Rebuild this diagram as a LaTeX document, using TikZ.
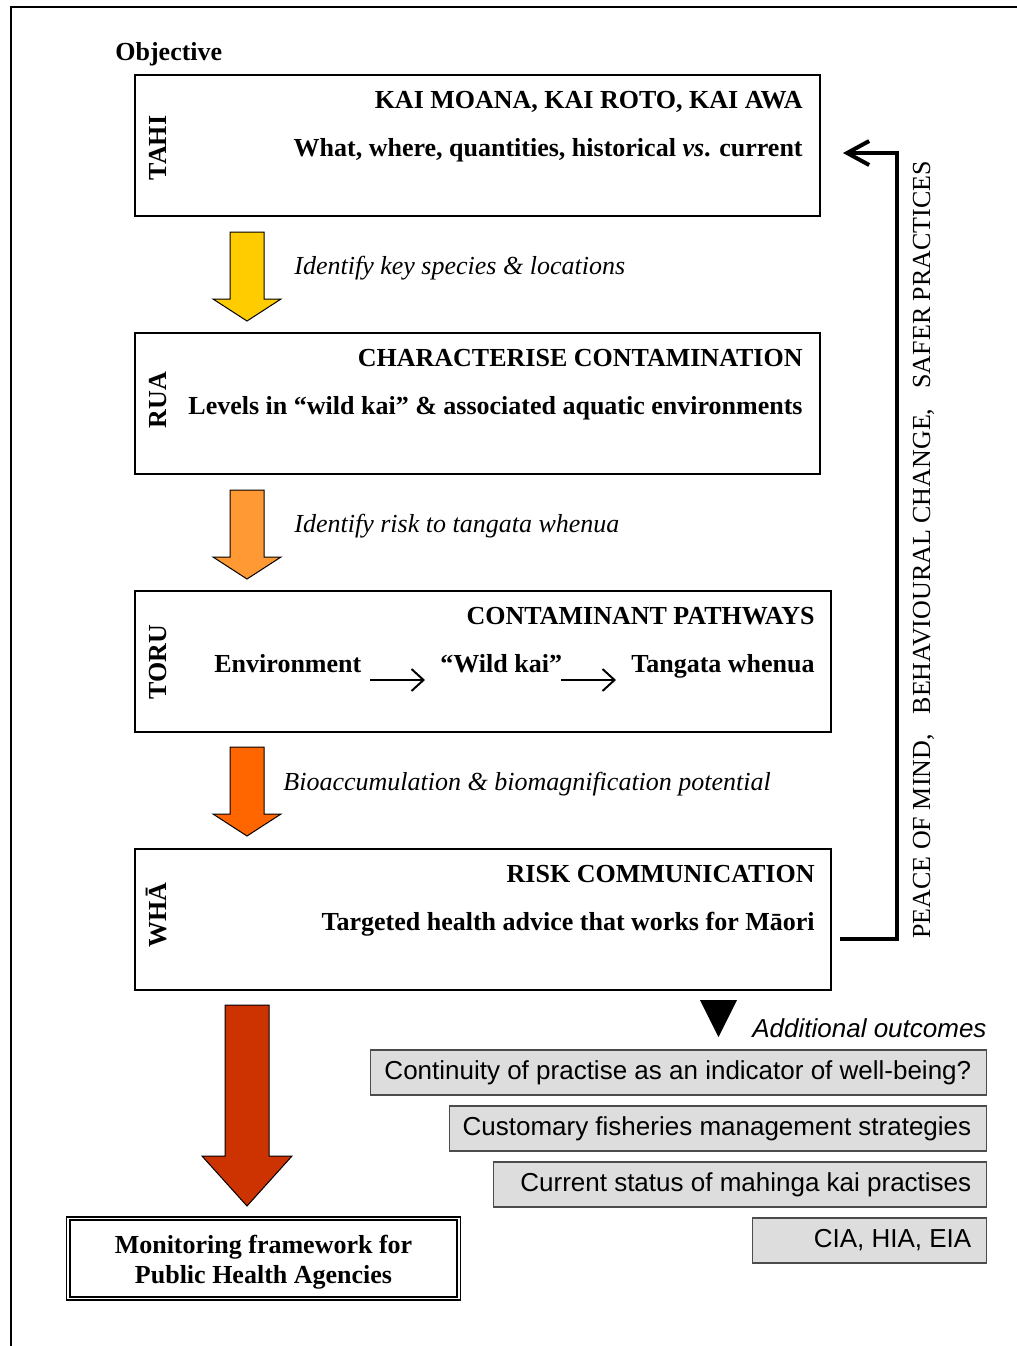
\documentclass[tikz,border=0pt]{standalone}
\usepackage{fontspec}
\setmainfont{Liberation Serif}
\setsansfont{Liberation Sans}
\usetikzlibrary{arrows.meta}
\definecolor{arrYellow}{HTML}{FFCC00}
\definecolor{arrOrange}{HTML}{FF9933}
\definecolor{arrDark}{HTML}{FF6600}
\definecolor{arrRed}{HTML}{CC3300}
\definecolor{boxGray}{HTML}{DDDDDD}
\begin{document}
\begin{tikzpicture}[x=0.5pt,y=-0.5pt,
  stagebox/.style={draw=black, line width=1.25pt, inner sep=0pt, outer sep=0pt, anchor=north west},
  boldtxt/.style={font=\fontsize{13}{15}\selectfont\bfseries, inner sep=0pt},
  stagelab/.style={boldtxt, rotate=90},
  itlabel/.style={font=\fontsize{13}{15}\selectfont\itshape, inner sep=0pt, anchor=west},
  blockarrow/.style={draw=black, line width=0.5pt, line join=miter},
  smallarr/.style={line width=1pt, -{Straight Barb[length=6pt,width=11pt]}},
  feedback/.style={line width=2pt, -{Straight Barb[length=11pt,width=12pt]}},
  gbox/.style={draw=black!70, fill=boxGray, line width=0.75pt, font=\sffamily\fontsize{13}{15}\selectfont, minimum height=22.5pt, inner xsep=7.5pt, inner ysep=0pt, anchor=east}
]
\useasboundingbox (0,0) rectangle (1017,1346);
% outer frame
\draw[line width=1.25pt] (11,1346) -- (11,7) -- (1017,7);

\node[boldtxt, anchor=west] (objective) at (115,54) {Objective};

% stage boxes
\node[stagebox, minimum width=342.5pt, minimum height=70.5pt] (tahi) at (135,75) {};
\node[stagebox, minimum width=342.5pt, minimum height=70.5pt] (rua) at (135,333) {};
\node[stagebox, minimum width=348pt, minimum height=70.5pt] (toru) at (135,591) {};
\node[stagebox, minimum width=348pt, minimum height=70.5pt] (wha) at (135,849) {};

% stage labels
\node[stagelab] (tahiL) at (158,148) {TAHI};
\node[stagelab] (ruaL) at (158,400) {RUA};
\node[stagelab] (toruL) at (158,662) {TORU};
\node[stagelab] (whaL) at (157,915) {WHĀ};

% box texts
\node[boldtxt, anchor=base east] (tahiT) at (803,108) {KAI MOANA, KAI ROTO, KAI AWA};
\node[boldtxt, anchor=base east] (tahiS) at (803,156) {What, where, quantities, historical \textit{vs}. current};
\node[boldtxt, anchor=base east] (ruaT) at (803,366) {CHARACTERISE CONTAMINATION};
\node[boldtxt, anchor=base east] (ruaS) at (803,414) {Levels in “wild kai” \& associated aquatic environments};
\node[boldtxt, anchor=base east] (toruT) at (815,624) {CONTAMINANT PATHWAYS};
\node[boldtxt, anchor=base west] (env) at (214,672) {Environment};
\node[boldtxt, anchor=base west] (wild) at (440,672) {“Wild kai”};
\node[boldtxt, anchor=base east] (tw) at (815,672) {Tangata whenua};
\node[boldtxt, anchor=base east] (whaT) at (815,882) {RISK COMMUNICATION};
\node[boldtxt, anchor=base east] (whaS) at (815,930) {Targeted health advice that works for Māori};

% pathway arrows
\coordinate (p1s) at (370,680);
\coordinate (p1e) at (425,680);
\coordinate (p2s) at (561,680);
\coordinate (p2e) at (616,680);
\draw[smallarr] (p1s) -- (p1e);
\draw[smallarr] (p2s) -- (p2e);

% block arrows
\draw[blockarrow, fill=arrYellow] (230,232) -- (264,232) -- (264,299) -- (281,299) -- (247,321) -- (213,299) -- (230,299) -- cycle;
\draw[blockarrow, fill=arrOrange] (230,490) -- (264,490) -- (264,557) -- (281,557) -- (247,579) -- (213,557) -- (230,557) -- cycle;
\draw[blockarrow, fill=arrDark] (230,747) -- (264,747) -- (264,814) -- (281,814) -- (247,836) -- (213,814) -- (230,814) -- cycle;
\draw[blockarrow, fill=arrRed] (225,1005) -- (269,1005) -- (269,1156) -- (292,1156) -- (247,1206) -- (202,1156) -- (225,1156) -- cycle;

% arrow labels
\node[itlabel] (lab1) at (294,268) {Identify key species \& locations};
\node[itlabel] (lab2) at (294,526) {Identify risk to tangata whenua};
\node[itlabel] (lab3) at (283,784) {Bioaccumulation \& biomagnification potential};

% feedback loop
\coordinate (fbs) at (840,939);
\coordinate (fbe) at (843,153);
\draw[feedback, line join=miter] (fbs) -- (897,939) -- (897,153) -- (fbe);
\node[font=\fontsize{13}{15}\selectfont, inner sep=0pt, rotate=90, anchor=base west] (fbtext) at (930,939)
  {PEACE OF MIND,\hspace{10pt}BEHAVIOURAL CHANGE,\hspace{10pt}SAFER PRACTICES};

% additional outcomes
\fill (700,1000) -- (737,1000) -- (718.5,1037) -- cycle;
\node[font=\sffamily\itshape\fontsize{13}{15}\selectfont, inner sep=0pt, anchor=west] (addl) at (752,1028) {Additional outcomes};
\node[gbox] (o1) at (987,1072.5) {\raisebox{-1.2pt}{\makebox[293pt][r]{Continuity of practise as an indicator of well-being?}}};
\node[gbox] (o2) at (987,1128.5) {\raisebox{-1.2pt}{\makebox[253.5pt][r]{Customary fisheries management strategies}}};
\node[gbox] (o3) at (987,1184.5) {\raisebox{-1.2pt}{\makebox[231.5pt][r]{Current status of mahinga kai practises}}};
\node[gbox] (o4) at (987,1240.5) {\raisebox{-1.2pt}{\makebox[102pt][r]{CIA, HIA, EIA}}};

% monitoring box
\node[draw=black, line width=0.6pt, minimum width=197pt, minimum height=41.5pt, inner sep=0pt] (mon) at (263.5,1258.5) {};
\draw[line width=1pt] ([shift={(2pt,-2pt)}]mon.north west) rectangle ([shift={(-2pt,2pt)}]mon.south east);
\node[inner sep=0pt, align=center, font=\fontsize{13}{15}\selectfont\bfseries] (monT) at (263.5,1262) {Monitoring framework for\\Public Health Agencies};
\end{tikzpicture}
\end{document}
